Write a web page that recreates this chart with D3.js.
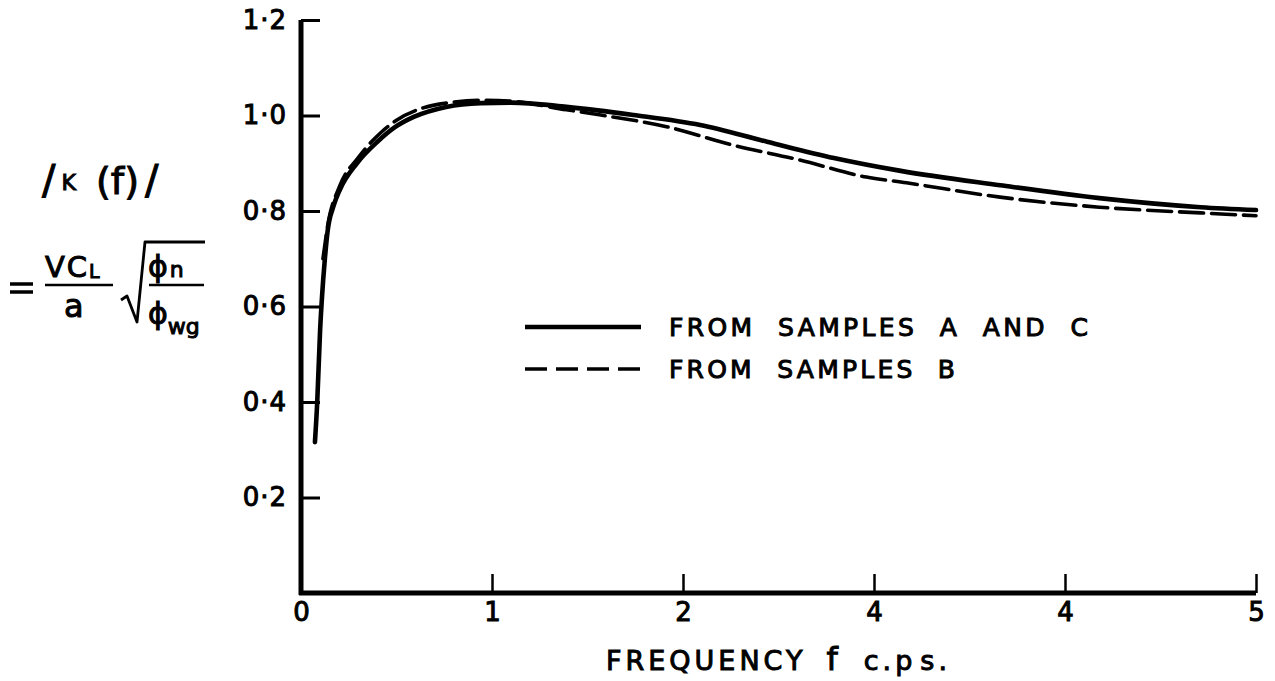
<!DOCTYPE html>
<html>
<head>
<meta charset="utf-8">
<script src="https://cdn.jsdelivr.net/npm/d3@7/dist/d3.min.js"></script>
<style>
body { margin:0; background:#fff; }
text { font-family:"DejaVu Sans", sans-serif; fill:#000; stroke:#000; stroke-width:1; }
</style>
</head>
<body>
<svg id="chart"></svg>
<script>
//values (frequency in c.p.s., |K(f)|)
var solidF = [0.073, 0.085, 0.10, 0.11, 0.125, 0.14, 0.17, 0.204, 0.293, 0.40, 0.49, 0.59, 0.76, 0.94, 1.1, 1.39, 1.74, 2.09, 2.44, 2.79, 3.14, 3.66, 4.18, 4.71, 5.0];
var solidK = [0.316, 0.40, 0.55, 0.62, 0.70, 0.76, 0.81, 0.845, 0.90, 0.945, 0.975, 0.997, 1.018, 1.026, 1.027, 1.018, 1.001, 0.98, 0.945, 0.911, 0.884, 0.854, 0.827, 0.808, 0.802];
var dashF = [0.115, 0.14, 0.2, 0.3, 0.42, 0.5, 0.64, 0.78, 0.94, 1.1, 1.39, 1.57, 1.92, 2.26, 2.61, 2.96, 3.17, 3.66, 4.18, 4.71, 5.0];
var dashK = [0.70, 0.77, 0.85, 0.912, 0.965, 0.99, 1.016, 1.027, 1.032, 1.03, 1.012, 1.001, 0.976, 0.938, 0.907, 0.871, 0.859, 0.829, 0.808, 0.796, 0.79];

//axis ticks (the original sheet labels the 3 tick as "4")
var xTicks = [0, 1, 2, 3, 4, 5];
var xTickLabels = ["0", "1", "2", "4", "4", "5"];
var yTicks = [0.2, 0.4, 0.6, 0.8, 1.0, 1.2];
var yTickLabels = ["0·2", "0·4", "0·6", "0·8", "1·0", "1·2"];

var legendLabels = ["FROM  SAMPLES  A  AND  C", "FROM  SAMPLES  B"];
var xTitle = "FREQUENCY";

var width = 1275, height = 681;
var svg = d3.select("#chart").attr("width", width).attr("height", height);
svg.append("rect").attr("width", width).attr("height", height).style("fill", "#fff");

var x = d3.scaleLinear().domain([0, 5]).range([301, 1256]);
var y = d3.scaleLinear().domain([0, 1.2]).range([593, 20]);

//curves
var line = d3.line()
	.x(function(d) { return x(d[0]); })
	.y(function(d) { return y(d[1]); })
	.curve(d3.curveMonotoneX);

var solid = d3.zip(solidF, solidK), dashed = d3.zip(dashF, dashK);

svg.append("path").datum(dashed).attr("d", line)
	.style("fill", "none").style("stroke", "#000").style("stroke-width", 3.6)
	.style("stroke-dasharray", "24,8").style("stroke-linecap", "round");
svg.append("path").datum(solid).attr("d", line)
	.style("fill", "none").style("stroke", "#000").style("stroke-width", 4.6)
	.style("stroke-linecap", "round").style("stroke-linejoin", "round");

//y axis, ticks pointing into the plot
var yAxis = d3.axisLeft(y).tickValues(yTicks).tickSizeInner(-19).tickSizeOuter(0).tickPadding(14)
	.tickFormat(function(d, i) { return yTickLabels[i]; });
var gy = svg.append("g").attr("transform", "translate(" + x(0) + ",0)").call(yAxis);
gy.select(".domain").attr("d", "M0," + (y(0) + 2) + "V" + y(1.2)).style("stroke-width", 5);
gy.selectAll(".tick line").style("stroke-width", 3);
gy.selectAll(".tick text").style("font-size", "26px").style("font-family", "DejaVu Sans").attr("letter-spacing", 1);

//x axis, ticks pointing up
var xAxis = d3.axisBottom(x).tickValues(xTicks).tickSizeInner(-19).tickSizeOuter(0).tickPadding(10)
	.tickFormat(function(d, i) { return xTickLabels[i]; });
var gx = svg.append("g").attr("transform", "translate(0," + y(0) + ")").call(xAxis);
gx.select(".domain").attr("d", "M" + (x(0) - 2) + ",0H" + x(5)).style("stroke-width", 5);
gx.selectAll(".tick line").style("stroke-width", 2.5);
gx.selectAll(".tick").filter(function(d) { return d === 0; }).select("line").remove();
gx.selectAll(".tick text").style("font-size", "26px").style("font-family", "DejaVu Sans");

//x axis title
var xt = svg.append("text").attr("x", 606).attr("y", 670).style("font-size", "27px").attr("letter-spacing", 4);
xt.append("tspan").text(xTitle);
xt.append("tspan").attr("dx", 20).style("font-size", "32px").text("f");
xt.append("tspan").attr("dx", 22).text("c.p");
xt.append("tspan").attr("dx", 4).text("s.");

//y axis label |K(f)| = VC_L/a sqrt(phi_n/phi_wg)
var yl = svg.append("text").attr("x", 42).attr("y", 194);
yl.append("tspan").style("font-size", "40px").text("/");
yl.append("tspan").attr("dx", 6).attr("dy", -4).style("font-size", "22px").text("K");
yl.append("tspan").attr("dx", 20).attr("dy", 4).style("font-size", "38px").text("(f)");
yl.append("tspan").attr("dx", 6).style("font-size", "40px").text("/");

var fm = svg.append("g").style("stroke", "#000").style("fill", "none");
fm.append("path").attr("d", "M10,284H33M10,292H33").style("stroke-width", 3.5);
fm.append("path").attr("d", "M45,285H113M149,285H204").style("stroke-width", 2.5);
fm.append("path").attr("d", "M121,300L127,296L137,322L145,242H205").style("stroke-width", 2.8).style("stroke-linejoin", "round");

var num = svg.append("text").attr("x", 45).attr("y", 277).style("font-size", "29px").attr("letter-spacing", 2);
num.append("tspan").text("VC");
num.append("tspan").attr("dy", 1).style("font-size", "19px").text("L");
svg.append("text").attr("x", 64).attr("y", 317).style("font-size", "32px").text("a");

var phn = svg.append("text").attr("x", 148).attr("y", 277).style("font-size", "30px");
phn.append("tspan").text("ϕ");
phn.append("tspan").attr("dx", 2).style("font-size", "22px").text("n");
var phw = svg.append("text").attr("x", 148).attr("y", 324).style("font-size", "30px");
phw.append("tspan").text("ϕ");
phw.append("tspan").attr("dy", 10).style("font-size", "22px").text("wg");

//legend
var legend = svg.append("g").selectAll("g").data(legendLabels).enter().append("g")
	.attr("transform", function(d, i) { return "translate(525," + (327 + i * 42) + ")"; });
legend.append("line").attr("x1", 0).attr("x2", 116)
	.style("stroke", "#000")
	.style("stroke-width", function(d, i) { return i === 0 ? 4.6 : 3.6; })
	.style("stroke-dasharray", function(d, i) { return i === 0 ? null : "22,9"; });
legend.append("text").attr("x", 144).attr("y", 9).style("font-size", "25px")
	.style("white-space", "pre")
	.attr("textLength", function(d, i) { return i === 0 ? 419 : 286; })
	.attr("lengthAdjust", "spacing")
	.text(function(d) { return d; });
</script>
</body>
</html>
